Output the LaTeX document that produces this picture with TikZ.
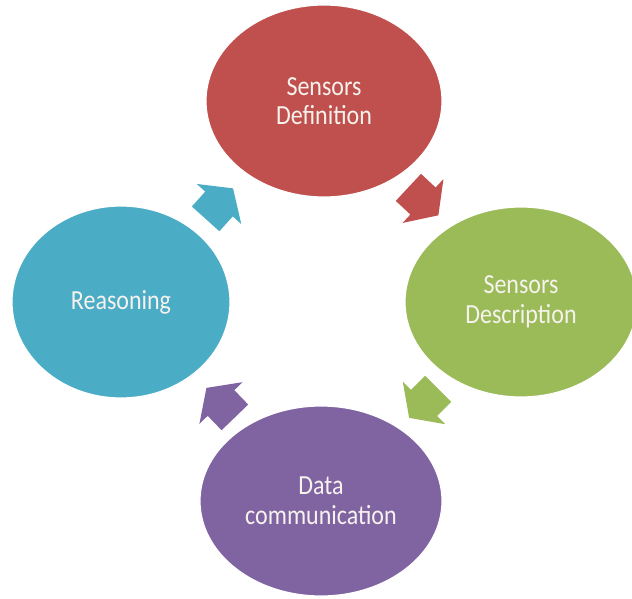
\documentclass[tikz,border=0pt]{standalone}
\usepackage{fontspec}
\setmainfont{Carlito}
\usetikzlibrary{shapes.geometric}
\definecolor{cred}{HTML}{C0504D}
\definecolor{cgreen}{HTML}{9BBB59}
\definecolor{cpurple}{HTML}{8064A2}
\definecolor{cblue}{HTML}{4BACC6}
\definecolor{ctext}{HTML}{F6F2EE}
\tikzset{
  stage/.style={ellipse, inner sep=0pt, draw=white, line width=1.2pt,
    text=ctext, align=center,
    font=\fontsize{24}{27}\selectfont},
  blockarr/.pic={\path[pic actions] (-20,-18.5) -- (0,-18.5) -- (0,-30) -- (21,0)
    -- (0,30) -- (0,18.5) -- (-20,18.5) -- cycle;}
}
\begin{document}
\begin{tikzpicture}[x=1pt,y=1pt]
\useasboundingbox (0,0) rectangle (632,598);
\node[stage, fill=cred, minimum width=236pt, minimum height=192pt] (def) at (324,497)
  {\scalebox{1}[1.15]{\shortstack{Sensors\\[6pt]Definition}}};
\node[stage, fill=cgreen, minimum width=232pt, minimum height=190pt] (desc) at (521,296)
  {\scalebox{1}[1.15]{\shortstack{Sensors\\[6pt]Description}}};
\node[stage, fill=cpurple, minimum width=242pt, minimum height=190pt] (comm) at (321,97)
  {\scalebox{1}[1.15]{\shortstack{Data\\[6pt]communication}}};
\node[stage, fill=cblue, minimum width=218pt, minimum height=192pt] (reas) at (121,296)
  {\scalebox{1}[1.15]{Reasoning}};
\pic[fill=cred, rotate=-43] at (423,397) {blockarr};
\pic[fill=cgreen, rotate=-135] at (424,195) {blockarr};
\pic[fill=cpurple, rotate=134] at (221,195) {blockarr};
\pic[fill=cblue, rotate=48] at (219,394) {blockarr};
\end{tikzpicture}
\end{document}
